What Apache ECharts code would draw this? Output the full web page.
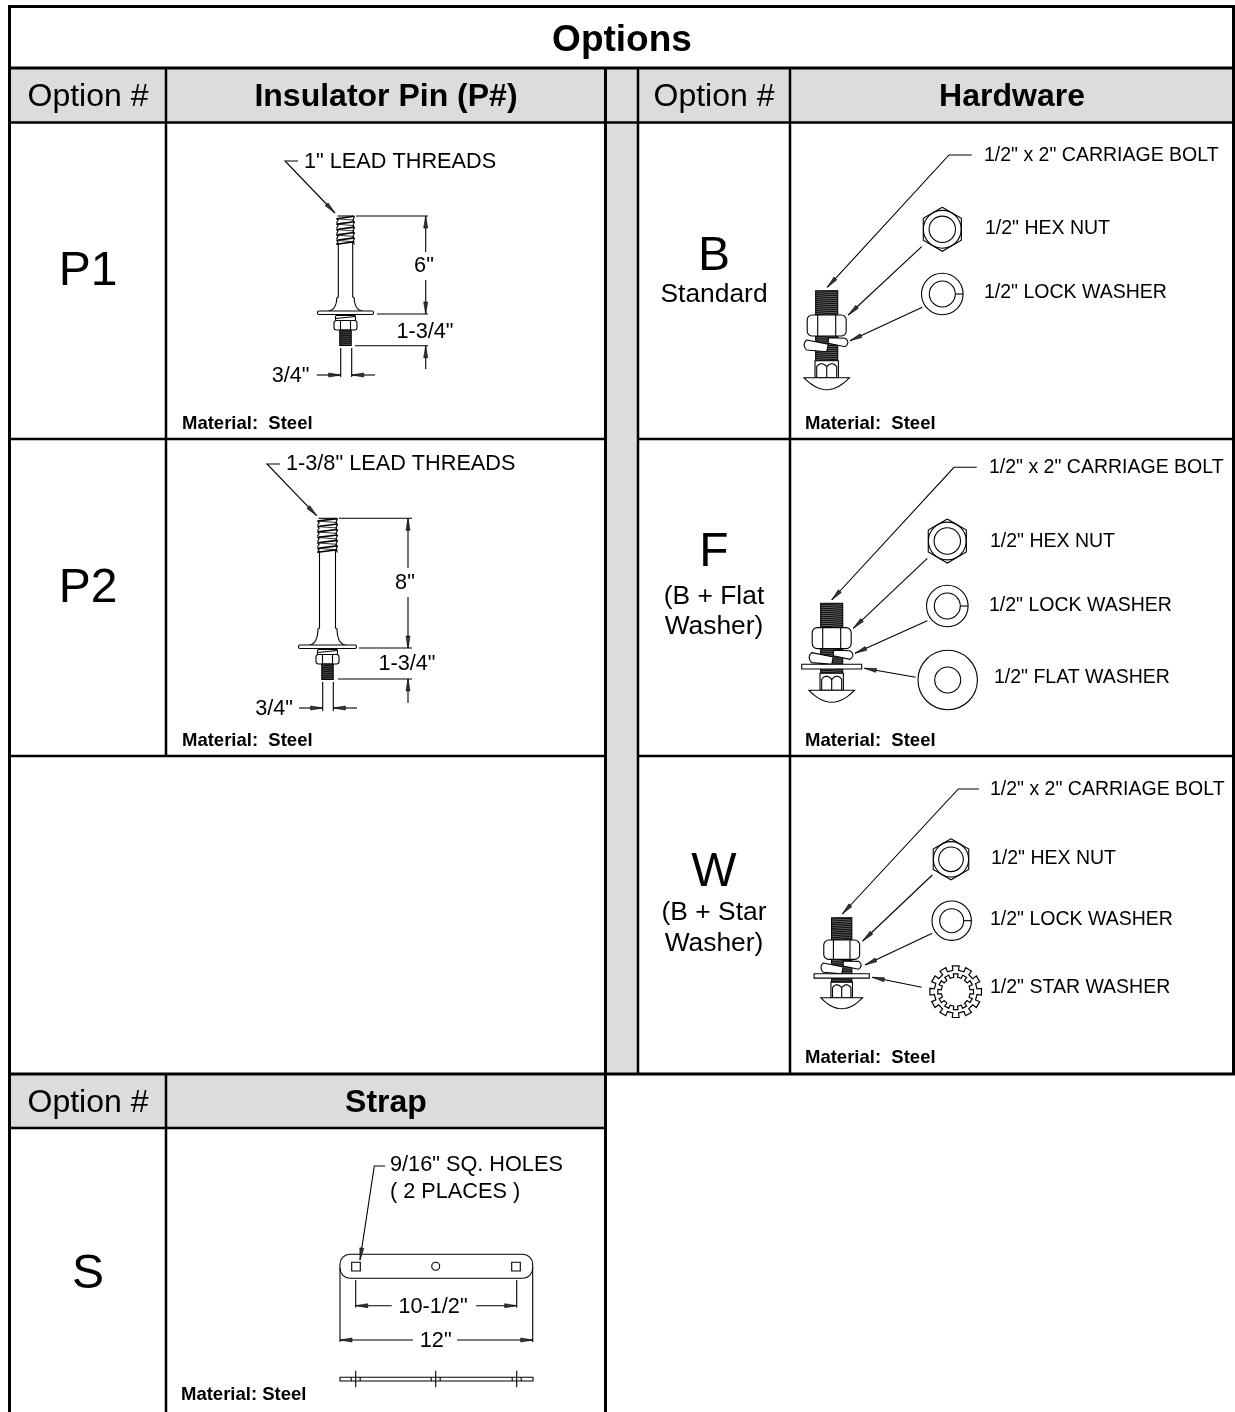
<!DOCTYPE html>
<html>
<head>
<meta charset="utf-8">
<title>Options</title>
<script src="https://cdn.jsdelivr.net/npm/echarts@6/dist/echarts.min.js"></script>
<style>html,body{margin:0;padding:0;background:#fff}#main{width:1235px;height:1412px}</style>
</head>
<body>
<div id="main"></div>
<script>
// table text
var tableTitle = 'Options';
var optionHeader = 'Option #';
var sectionTitles = ['Insulator Pin (P#)', 'Hardware', 'Strap'];
var optionCodes = ['P1', 'P2', 'S', 'B', 'F', 'W'];
var optionNotes = [['Standard'], ['(B + Flat', 'Washer)'], ['(B + Star', 'Washer)']];
var materialLabel = 'Material:  Steel';
var strapMaterial = 'Material: Steel';
var pinLeadLabels = ['1" LEAD THREADS', '1-3/8" LEAD THREADS'];
var pinLengths = ['6"', '8"'];
var pinStud = '1-3/4"';
var pinDia = '3/4"';
var boltLabel = '1/2" x 2" CARRIAGE BOLT';
var hexLabel = '1/2" HEX NUT';
var lockLabel = '1/2" LOCK WASHER';
var flatLabel = '1/2" FLAT WASHER';
var starLabel = '1/2" STAR WASHER';
var strapNotes = ['9/16" SQ. HOLES', '( 2 PLACES )'];
var strapDims = ['10-1/2"', '12"'];

var FONT = '"Liberation Sans", Arial, sans-serif';
var GRAY = '#dcdcdc';
var els = [];

function line(x1, y1, x2, y2, w, color) {
    els.push({type: 'line', silent: true, shape: {x1: x1, y1: y1, x2: x2, y2: y2},
        style: {stroke: color || '#000', lineWidth: w || 1.1}});
}
function poly(pts, w) {
    els.push({type: 'polyline', silent: true, shape: {points: pts}, style: {stroke: '#000', fill: null, lineWidth: w || 1.1}});
}
function box(x, y, w, h, fill, stroke, r) {
    els.push({type: 'rect', silent: true, shape: {x: x, y: y, width: w, height: h, r: r || 0},
        style: {fill: fill, stroke: stroke || null, lineWidth: 1.1}});
}
function circle(cx, cy, r, fill) {
    els.push({type: 'circle', silent: true, shape: {cx: cx, cy: cy, r: r},
        style: {fill: fill || 'none', stroke: '#000', lineWidth: 1.1}});
}
// the graphic component has no path element, so M/L/Q/Z strings are flattened to points here
function path(d, fill) {
    var t = d.match(/[MLQZ]|-?[\d.]+/g), i = 0, pts = [], closed = false;
    while (i < t.length) {
        var c = t[i++];
        if (c === 'Z') { closed = true; continue; }
        if (c === 'Q') {
            var p0 = pts[pts.length - 1], qx = +t[i], qy = +t[i + 1], ex = +t[i + 2], ey = +t[i + 3];
            i += 4;
            for (var k = 1; k <= 14; k++) {
                var a = k / 14, b = 1 - a;
                pts.push([b * b * p0[0] + 2 * a * b * qx + a * a * ex, b * b * p0[1] + 2 * a * b * qy + a * a * ey]);
            }
        } else {
            pts.push([+t[i], +t[i + 1]]);
            i += 2;
        }
    }
    if (closed || fill) {
        els.push({type: 'polygon', silent: true, shape: {points: pts}, style: {fill: fill || 'none', stroke: '#000', lineWidth: 1.1}});
    } else {
        poly(pts);
    }
}
function text(s, x, y, size, align, bold) {
    els.push({type: 'text', silent: true, style: {text: s, x: x, y: y + size * 0.07, fill: '#000',
        font: (bold ? 'bold ' : '') + size + 'px ' + FONT, textAlign: align || 'left', textVerticalAlign: 'middle'}});
}
// long thin arrow head with its point on (tx,ty), pointing away from (fx,fy)
function arrow(tx, ty, fx, fy) {
    var dx = fx - tx, dy = fy - ty, len = Math.sqrt(dx * dx + dy * dy);
    dx /= len; dy /= len;
    var bx = tx + dx * 12, by = ty + dy * 12;
    els.push({type: 'polygon', silent: true, shape: {points: [[tx, ty], [bx - dy * 2, by + dx * 2], [bx + dy * 2, by - dx * 2]]},
        style: {fill: '#333', stroke: '#000', lineWidth: 0.6}});
}
function leader(pts) {
    poly(pts);
    var n = pts.length;
    arrow(pts[n - 1][0], pts[n - 1][1], pts[n - 2][0], pts[n - 2][1]);
}

// table frame
function drawFrame() {
    box(10, 69, 596, 53, GRAY);
    box(606, 69, 32, 1005, GRAY);
    box(638, 69, 152, 53, GRAY);
    box(790, 69, 443, 53, GRAY);
    box(10, 1074, 596, 54, GRAY);
    line(9.5, 5, 9.5, 1412, 3);
    line(8, 6.5, 1235, 6.5, 3);
    line(1233.5, 5, 1233.5, 1075, 3);
    line(8, 68, 1235, 68, 3);
    line(8, 122.5, 1235, 122.5, 2.5);
    line(166, 68, 166, 755, 2.5);
    line(605.5, 68, 605.5, 1412, 3);
    line(638, 68, 638, 1075, 2.5);
    line(790, 68, 790, 1075, 2.5);
    line(8, 439, 606, 439, 2.5);
    line(638, 439, 1235, 439, 2.5);
    line(8, 756, 606, 756, 2.5);
    line(638, 756, 1235, 756, 2.5);
    line(8, 1074, 1235, 1074, 3);
    line(8, 1128, 606, 1128, 2.5);
    line(166, 1074, 166, 1412, 2.5);
}

function drawLabels() {
    text(tableTitle, 622, 38, 37, 'center', true);
    text(optionHeader, 88, 95, 32, 'center');
    text(sectionTitles[0], 386, 95, 32, 'center', true);
    text(optionHeader, 714, 95, 32, 'center');
    text(sectionTitles[1], 1012, 95, 32, 'center', true);
    text(optionHeader, 88, 1101, 32, 'center');
    text(sectionTitles[2], 386, 1101, 32, 'center', true);

    text(optionCodes[0], 88, 268, 48, 'center');
    text(optionCodes[1], 88, 585, 48, 'center');
    text(optionCodes[2], 88, 1271, 48, 'center');
    text(optionCodes[3], 714, 253, 48, 'center');
    text(optionCodes[4], 714, 549, 48, 'center');
    text(optionCodes[5], 714, 869, 48, 'center');
    text(optionNotes[0][0], 714, 293, 26.4, 'center');
    text(optionNotes[1][0], 714, 595, 26.4, 'center');
    text(optionNotes[1][1], 714, 625, 26.4, 'center');
    text(optionNotes[2][0], 714, 911, 26.4, 'center');
    text(optionNotes[2][1], 714, 942, 26.4, 'center');

    text(materialLabel, 182, 423, 18.5, 'left', true);
    text(materialLabel, 182, 740, 18.5, 'left', true);
    text(materialLabel, 805, 423, 18.5, 'left', true);
    text(materialLabel, 805, 740, 18.5, 'left', true);
    text(materialLabel, 805, 1057, 18.5, 'left', true);
    text(strapMaterial, 181, 1394, 18.5, 'left', true);
}

// insulator pin with flange, nut and stud
function drawPin(cx, top, threadBottom, tw, sw, shoulder, flangeTop, fh, coils) {
    var i, p = (threadBottom - top) / coils;
    // threads
    line(cx - tw + 1, top, cx + tw - 1, top);
    for (i = 0; i <= coils; i++) {
        var y = top + 1.5 + i * p;
        if (y > threadBottom) y = threadBottom;
        line(cx - tw, y + 1.2, cx + tw, y - 1.2, 1.6);
        if (i < coils) {
            line(cx - tw + 0.5, y + p * 0.25, cx + tw - 0.5, y + p * 0.5, 0.8);
            path('M' + (cx - tw) + ' ' + (y + 1.2) + ' L' + (cx - tw + 1.6) + ' ' + (y + p / 2) + ' L' + (cx - tw) + ' ' + (y + p));
            path('M' + (cx + tw) + ' ' + (y - 1) + ' L' + (cx + tw - 1.6) + ' ' + (y + p / 2) + ' L' + (cx + tw) + ' ' + (y + p));
        }
    }
    // shaft and flange
    path('M' + (cx - sw) + ' ' + threadBottom + ' L' + (cx - sw) + ' ' + shoulder +
        ' L' + (cx - sw - 1.5) + ' ' + (shoulder + 1) + ' Q' + (cx - sw - 2) + ' ' + (flangeTop - 1) + ' ' + (cx - sw - 10) + ' ' + flangeTop);
    path('M' + (cx + sw) + ' ' + threadBottom + ' L' + (cx + sw) + ' ' + shoulder +
        ' L' + (cx + sw + 1.5) + ' ' + (shoulder + 1) + ' Q' + (cx + sw + 2) + ' ' + (flangeTop - 1) + ' ' + (cx + sw + 10) + ' ' + flangeTop);
    box(cx - fh, flangeTop, fh * 2, 3.5, '#fff', '#000', 1.5);
    // lock washer, nut, stud
    box(cx - 10, flangeTop + 4.5, 20, 5, '#fff', '#000', 1);
    line(cx - 10, flangeTop + 7.5, cx + 10, flangeTop + 5.5);
    box(cx - 11.5, flangeTop + 9.5, 23, 9.5, '#fff', '#000', 2.5);
    line(cx - 5, flangeTop + 9.5, cx - 5, flangeTop + 19);
    line(cx + 5, flangeTop + 9.5, cx + 5, flangeTop + 19);
    box(cx - 5.7, flangeTop + 19, 11.4, 15.5, '#444', '#000');
    for (i = 0; i < 7; i++) {
        line(cx - 5.7, flangeTop + 21 + i * 2, cx + 5.7, flangeTop + 20 + i * 2, 1, '#111');
    }
}

function drawPins() {
    // P1
    text(pinLeadLabels[0], 304, 161, 21.7);
    leader([[298, 161], [285, 161], [335, 213]]);
    drawPin(345.5, 216, 243, 9, 7.2, 297, 311, 28, 5);
    line(356, 216, 428, 216);
    line(425.7, 216, 425.7, 252);
    arrow(425.7, 216, 425.7, 252);
    line(425.7, 280, 425.7, 314);
    arrow(425.7, 314, 425.7, 280);
    line(377, 314, 428, 314);
    text(pinLengths[0], 424, 265, 21.7, 'center');
    text(pinStud, 425, 331, 21.7, 'center');
    line(355, 345.7, 428, 345.7);
    line(425.7, 345.7, 425.7, 369);
    arrow(425.7, 345.7, 425.7, 369);
    line(340.7, 348, 340.7, 377);
    line(351.7, 348, 351.7, 377);
    line(316.7, 375, 340.7, 375);
    arrow(340.7, 375, 316.7, 375);
    line(351.7, 375, 375, 375);
    arrow(351.7, 375, 375, 375);
    text(pinDia, 309.5, 375, 21.7, 'right');

    // P2
    text(pinLeadLabels[1], 286, 463, 21.7);
    leader([[280, 464], [267, 464], [316.7, 515.7]]);
    drawPin(327.5, 518.3, 551, 10, 8, 628, 645, 29, 6);
    line(339, 518.3, 412, 518.3);
    line(408, 518.3, 408, 568);
    arrow(408, 518.3, 408, 568);
    line(408, 597, 408, 648);
    arrow(408, 648, 408, 597);
    line(359, 648, 412, 648);
    text(pinLengths[1], 405, 582, 21.7, 'center');
    text(pinStud, 407, 663, 21.7, 'center');
    line(338, 679, 412, 679);
    line(408, 679, 408, 703);
    arrow(408, 679, 408, 703);
    line(322.7, 682, 322.7, 711);
    line(333.3, 682, 333.3, 711);
    line(299, 708, 322.7, 708);
    arrow(322.7, 708, 299, 708);
    line(333.3, 708, 357, 708);
    arrow(333.3, 708, 357, 708);
    text(pinDia, 293, 708, 21.7, 'right');
}

// carriage bolt stack, s scales the whole drawing
function drawBolt(cx, top, s, flat) {
    function X(u) { return cx + u * s; }
    function Y(v) { return top + v * s; }
    function threads(v1, v2) {
        box(X(-11), Y(v1), 22 * s, (v2 - v1) * s, '#777', '#000');
        for (var v = v1 + 1; v < v2; v += 2) {
            line(X(-11), Y(v + 0.6), X(11), Y(v - 0.6), 1.2, '#111');
        }
    }
    threads(0, 26);
    threads(44, 70);
    // nut
    box(X(-19.5), Y(24.3), 39 * s, 21 * s, '#fff', '#000', 5);
    line(X(-9), Y(24.3), X(-9), Y(45.3));
    line(X(9), Y(24.3), X(9), Y(45.3));
    // split lock washer
    path('M' + X(-20) + ' ' + Y(49.3) + ' L' + X(1.6) + ' ' + Y(53.6) + ' L' + X(0) + ' ' + Y(61) + ' L' + X(-20) + ' ' + Y(59.3) +
        ' Q' + X(-25) + ' ' + Y(54) + ' ' + X(-20) + ' ' + Y(49.3) + ' Z', '#fff');
    path('M' + X(1.6) + ' ' + Y(47) + ' L' + X(18.3) + ' ' + Y(47.5) + ' Q' + X(24) + ' ' + Y(51.5) + ' ' + X(18.3) + ' ' + Y(56) +
        ' L' + X(1.6) + ' ' + Y(52.6) + ' Z', '#fff');
    // flat or star washer
    if (flat) box(X(-30), Y(61), 60 * s, 4.7 * s, '#fff', '#000');
    // neck and head
    box(X(-11.7), Y(70), 23.4 * s, 17 * s, '#fff', '#000');
    path('M' + X(-10) + ' ' + Y(87) + ' L' + X(-10) + ' ' + Y(76) + ' Q' + X(-5.5) + ' ' + Y(70) + ' ' + X(0) + ' ' + Y(76) + ' L' + X(0) + ' ' + Y(87));
    path('M' + X(0) + ' ' + Y(76) + ' Q' + X(5.5) + ' ' + Y(70) + ' ' + X(10) + ' ' + Y(76) + ' L' + X(10) + ' ' + Y(87));
    path('M' + X(-22.7) + ' ' + Y(87) + ' L' + X(22.7) + ' ' + Y(87) + ' Q' + X(0) + ' ' + Y(111) + ' ' + X(-22.7) + ' ' + Y(87) + ' Z', '#fff');
}

function hexNut(cx, cy, R) {
    var pts = [], i;
    for (i = 0; i < 6; i++) {
        var a = Math.PI / 3 * i - Math.PI / 2;
        pts.push([cx + R * Math.cos(a), cy + R * Math.sin(a)]);
    }
    pts.push(pts[0]);
    poly(pts);
    circle(cx, cy, R * 0.86);
    circle(cx, cy, R * 0.6);
}
function lockWasher(cx, cy, R, r) {
    circle(cx, cy, R);
    circle(cx, cy, r);
    line(cx + r, cy, cx + R, cy);
}
// star washer outline: square teeth with radial sides
function starWasher(cx, cy) {
    function ring(R1, R2, teeth, start) {
        var pts = [], i, step = Math.PI * 2 / teeth, w = step * 0.5;
        for (i = 0; i <= teeth; i++) {
            var a = start + i * step;
            pts.push([cx + R2 * Math.cos(a), cy + R2 * Math.sin(a)]);
            pts.push([cx + R1 * Math.cos(a), cy + R1 * Math.sin(a)]);
            pts.push([cx + R1 * Math.cos(a + w), cy + R1 * Math.sin(a + w)]);
            pts.push([cx + R2 * Math.cos(a + w), cy + R2 * Math.sin(a + w)]);
        }
        poly(pts, 1.2);
    }
    ring(26, 21.5, 12, -Math.PI / 2 - 0.13);
    ring(18, 14.5, 12, -Math.PI / 2 - 0.13);
}

function drawHardware() {
    // B
    drawBolt(826.7, 290.7, 1, false);
    hexNut(942.3, 229.3, 22);
    lockWasher(942.3, 294, 20.8, 13);
    leader([[971.7, 155], [949, 155], [827.3, 287.3]]);
    leader([[921.7, 246.7], [848.3, 315]]);
    leader([[922.3, 307.3], [850, 340.7]]);
    text(boltLabel, 984, 154, 19.5);
    text(hexLabel, 985, 227, 19.5);
    text(lockLabel, 984, 291, 19.5);

    // F
    drawBolt(831.7, 603.3, 1, true);
    hexNut(947.3, 541, 22);
    lockWasher(947.3, 606, 20.8, 13);
    circle(947.7, 680, 29.7);
    circle(947.7, 680, 13);
    leader([[976.7, 467.3], [954, 467.3], [831.7, 600]]);
    leader([[927.3, 558.3], [853.3, 628.3]]);
    leader([[927.3, 620.7], [855, 653.3]]);
    leader([[915.7, 677.3], [864.3, 668.3]]);
    text(boltLabel, 989, 466, 19.5);
    text(hexLabel, 990, 540, 19.5);
    text(lockLabel, 989, 604, 19.5);
    text(flatLabel, 994, 676, 19.5);

    // W
    drawBolt(841.7, 917.7, 0.92, true);
    hexNut(951, 859.3, 20.5);
    lockWasher(951.7, 920.7, 19.7, 12);
    starWasher(955.7, 991.7);
    leader([[979, 789], [958.3, 789], [842.3, 914]]);
    leader([[932.3, 875], [862.7, 941]]);
    leader([[932.3, 933.3], [865, 965]]);
    leader([[921.7, 987.3], [872.3, 977.3]]);
    text(boltLabel, 990, 788, 19.5);
    text(hexLabel, 991, 857, 19.5);
    text(lockLabel, 990, 918, 19.5);
    text(starLabel, 990, 986, 19.5);
}

function drawStrap() {
    box(340, 1254.3, 192.7, 24, '#fff', '#000', 10);
    box(351.7, 1262.3, 8.6, 8.7, 'none', '#000');
    box(511.7, 1262.3, 8.6, 8.7, 'none', '#000');
    circle(435.7, 1266.3, 4);
    text(strapNotes[0], 390, 1164, 21.7);
    text(strapNotes[1], 390, 1191, 21.7);
    leader([[385, 1166], [374.3, 1166], [360, 1260]]);
    // 10-1/2" dimension
    line(355.7, 1280, 355.7, 1307.5);
    line(516.7, 1280, 516.7, 1307.5);
    line(355.7, 1305.7, 391.7, 1305.7);
    arrow(355.7, 1305.7, 391.7, 1305.7);
    line(476, 1305.7, 516.7, 1305.7);
    arrow(516.7, 1305.7, 476, 1305.7);
    text(strapDims[0], 433, 1306, 21.7, 'center');
    // 12" dimension
    line(340, 1268, 340, 1342);
    line(532.7, 1268, 532.7, 1342);
    line(340, 1340, 413, 1340);
    arrow(340, 1340, 413, 1340);
    line(457, 1340, 532.7, 1340);
    arrow(532.7, 1340, 457, 1340);
    text(strapDims[1], 435.7, 1340, 21.7, 'center');
    // side view
    box(340, 1377.3, 193, 3.7, '#fff', '#000');
    [355.7, 435.7, 516.7].forEach(function (x) {
        line(x, 1370.7, x, 1387.3);
        line(x - 4.5, 1377.3, x - 4.5, 1381);
        line(x + 4.5, 1377.3, x + 4.5, 1381);
    });
}

drawFrame();
drawLabels();
drawPins();
drawHardware();
drawStrap();

var chart = echarts.init(document.getElementById('main'), null, {renderer: 'canvas'});
chart.setOption({
    backgroundColor: '#fff',
    animation: false,
    graphic: {elements: els}
});
</script>
</body>
</html>
